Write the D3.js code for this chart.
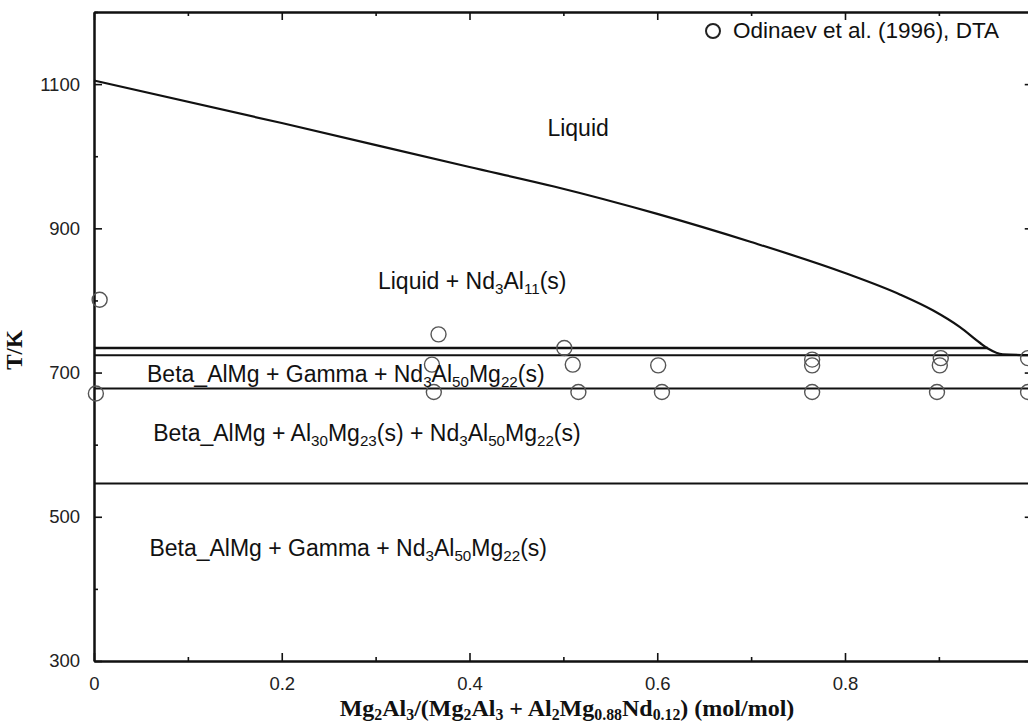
<!DOCTYPE html>
<html>
<head>
<meta charset="utf-8">
<script src="https://cdn.jsdelivr.net/npm/d3@7"></script>
<style>
  body { margin: 0; background: #fff; }
  svg { display: block; }
  .lbl { font-family: "Liberation Sans", Arial, sans-serif; fill: #111; }
  .ttl { font-family: "Liberation Serif", "Times New Roman", serif; font-weight: bold; fill: #111; }
</style>
</head>
<body>
<script>
// liquidus curve (mole fraction, T/K)
var liqX = [0, 0.2, 0.4, 0.49, 0.6, 0.7, 0.8, 0.859, 0.894, 0.9225, 0.944, 0.9527, 0.968, 1.0];
var liqT = [1105, 1046, 985, 958, 920, 881, 838, 808, 786, 763, 741, 733, 725.3, 724];

// invariant lines: temperature and x range
var invT = [734, 724, 678, 546];
var invXEnd = [0.952, 1, 1, 1];

// Odinaev et al. (1996) DTA points
var dtaX = [0.006, 0.002, 0.367, 0.501, 0.36, 0.51, 0.362, 0.516, 0.601, 0.605,
            0.765, 0.765, 0.765, 0.902, 0.901, 0.898, 0.995, 0.995];
var dtaT = [801, 671, 753, 734, 711, 711, 673, 673, 710, 673,
            718, 710, 673, 720, 710, 673, 720, 673];

var xTicks = [0, 0.2, 0.4, 0.6, 0.8, 1];
var xMinor = [0.1, 0.3, 0.5, 0.7, 0.9];
var yTicks = [300, 500, 700, 900, 1100];
var yMinor = [400, 600, 800, 1000, 1200];

// phase labels: [text, subscript?] pieces
var phaseText = [
  [["Liquid", 0]],
  [["Liquid + Nd", 0], ["3", 1], ["Al", 0], ["11", 1], ["(s)", 0]],
  [["Beta_AlMg + Gamma + Nd", 0], ["3", 1], ["Al", 0], ["50", 1], ["Mg", 0], ["22", 1], ["(s)", 0]],
  [["Beta_AlMg + Al", 0], ["30", 1], ["Mg", 0], ["23", 1], ["(s) + Nd", 0], ["3", 1], ["Al", 0], ["50", 1], ["Mg", 0], ["22", 1], ["(s)", 0]],
  [["Beta_AlMg + Gamma + Nd", 0], ["3", 1], ["Al", 0], ["50", 1], ["Mg", 0], ["22", 1], ["(s)", 0]]
];
var phaseX = [0.483, 0.3025, 0.0565, 0.063, 0.059];
var phaseT = [1028, 816, 687, 605, 446];

var W = 1028, H = 724;
var svg = d3.select("body").append("svg").attr("width", W).attr("height", H);

var x = d3.scaleLinear().domain([0, 1]).range([94, 1032.75]);
var y = d3.scaleLinear().domain([300, 1200]).range([661, 12]);

// axes with inward ticks
function axisStyle(g) {
  g.select(".domain").attr("stroke", "#111").attr("stroke-width", 2);
  g.selectAll(".tick line").attr("stroke", "#111").attr("stroke-width", 1.6);
  g.selectAll(".tick text")
    .attr("font-family", "Liberation Sans, Arial, sans-serif")
    .attr("font-size", 18.5).attr("fill", "#222");
}

svg.append("g").attr("transform", "translate(0," + y(300) + ")")
  .call(d3.axisBottom(x).tickValues(xMinor).tickSize(-4).tickFormat("").tickSizeOuter(0)).call(axisStyle);
svg.append("g").attr("transform", "translate(0," + y(300) + ")")
  .call(d3.axisBottom(x).tickValues(xTicks).tickSize(-8).tickPadding(16).tickSizeOuter(0)
    .tickFormat(function (d) { return d === 0 || d === 1 ? String(d) : d3.format(".1f")(d); })).call(axisStyle);
svg.append("g").attr("transform", "translate(0," + y(1200) + ")")
  .call(d3.axisTop(x).tickValues(xMinor).tickSize(-4).tickFormat("").tickSizeOuter(0)).call(axisStyle);
svg.append("g").attr("transform", "translate(0," + y(1200) + ")")
  .call(d3.axisTop(x).tickValues(xTicks).tickSize(-8).tickFormat("").tickSizeOuter(0)).call(axisStyle);

svg.append("g").attr("transform", "translate(" + x(0) + ",0)")
  .call(d3.axisLeft(y).tickValues(yMinor).tickSize(-4).tickFormat("").tickSizeOuter(0)).call(axisStyle);
svg.append("g").attr("transform", "translate(" + x(0) + ",0)")
  .call(d3.axisLeft(y).tickValues(yTicks).tickSize(-8).tickPadding(14).tickSizeOuter(0)
    .tickFormat(d3.format("d"))).call(axisStyle);
svg.append("g").attr("transform", "translate(" + x(1) + ",0)")
  .call(d3.axisRight(y).tickValues(yMinor).tickSize(-4).tickFormat("").tickSizeOuter(0)).call(axisStyle);
svg.append("g").attr("transform", "translate(" + x(1) + ",0)")
  .call(d3.axisRight(y).tickValues(yTicks).tickSize(-8).tickFormat("").tickSizeOuter(0)).call(axisStyle);

// invariant lines
svg.append("g").selectAll("line").data(invT).enter().append("line")
  .attr("x1", x(0))
  .attr("x2", function (d, i) { return x(invXEnd[i]); })
  .attr("y1", function (d) { return y(d); })
  .attr("y2", function (d) { return y(d); })
  .attr("stroke", "#111")
  .attr("stroke-width", function (d, i) { return i === 0 ? 2.4 : 2; });

// liquidus
var liq = liqX.map(function (d, i) { return [d, liqT[i]]; });
svg.append("path").datum(liq)
  .attr("d", d3.line().x(function (d) { return x(d[0]); }).y(function (d) { return y(d[1]); }).curve(d3.curveMonotoneX))
  .attr("fill", "none").attr("stroke", "#111").attr("stroke-width", 2.2);

// experimental points
svg.append("g").selectAll("circle").data(dtaX).enter().append("circle")
  .attr("cx", function (d) { return x(d); })
  .attr("cy", function (d, i) { return y(dtaT[i]); })
  .attr("r", 7.5)
  .attr("fill", "none").attr("stroke", "#555").attr("stroke-width", 1.4);

// phase labels
function richText(sel, parts, size, drop) {
  parts.forEach(function (p, i) {
    var prev = i > 0 ? parts[i - 1][1] : 0;
    var t = sel.append("tspan").text(p[0]);
    if (p[1] && !prev) t.attr("dy", drop).attr("font-size", size * 0.66);
    else if (!p[1] && prev) t.attr("dy", -drop).attr("font-size", size);
    else if (p[1]) t.attr("font-size", size * 0.66);
  });
}

phaseText.forEach(function (parts, i) {
  var t = svg.append("text").attr("class", "lbl")
    .attr("x", x(phaseX[i])).attr("y", y(phaseT[i]))
    .attr("font-size", 23);
  richText(t, parts, 23, 5);
});

// legend
svg.append("circle").attr("cx", 713).attr("cy", 31).attr("r", 7)
  .attr("fill", "none").attr("stroke", "#222").attr("stroke-width", 2);
svg.append("text").attr("class", "lbl").attr("x", 733).attr("y", 38)
  .attr("font-size", 22.5).text("Odinaev et al. (1996), DTA");

// axis titles
var xt = svg.append("text").attr("class", "ttl")
  .attr("x", 567).attr("y", 716).attr("text-anchor", "middle").attr("font-size", 24);
richText(xt, [["Mg", 0], ["2", 1], ["Al", 0], ["3", 1], ["/(Mg", 0], ["2", 1], ["Al", 0], ["3", 1],
  [" + Al", 0], ["2", 1], ["Mg", 0], ["0.88", 1], ["Nd", 0], ["0.12", 1], [") (mol/mol)", 0]], 24, 3.5);

svg.append("text").attr("class", "ttl")
  .attr("transform", "translate(22,350) rotate(-90)")
  .attr("text-anchor", "middle").attr("font-size", 23).text("T/K");
</script>
</body>
</html>
